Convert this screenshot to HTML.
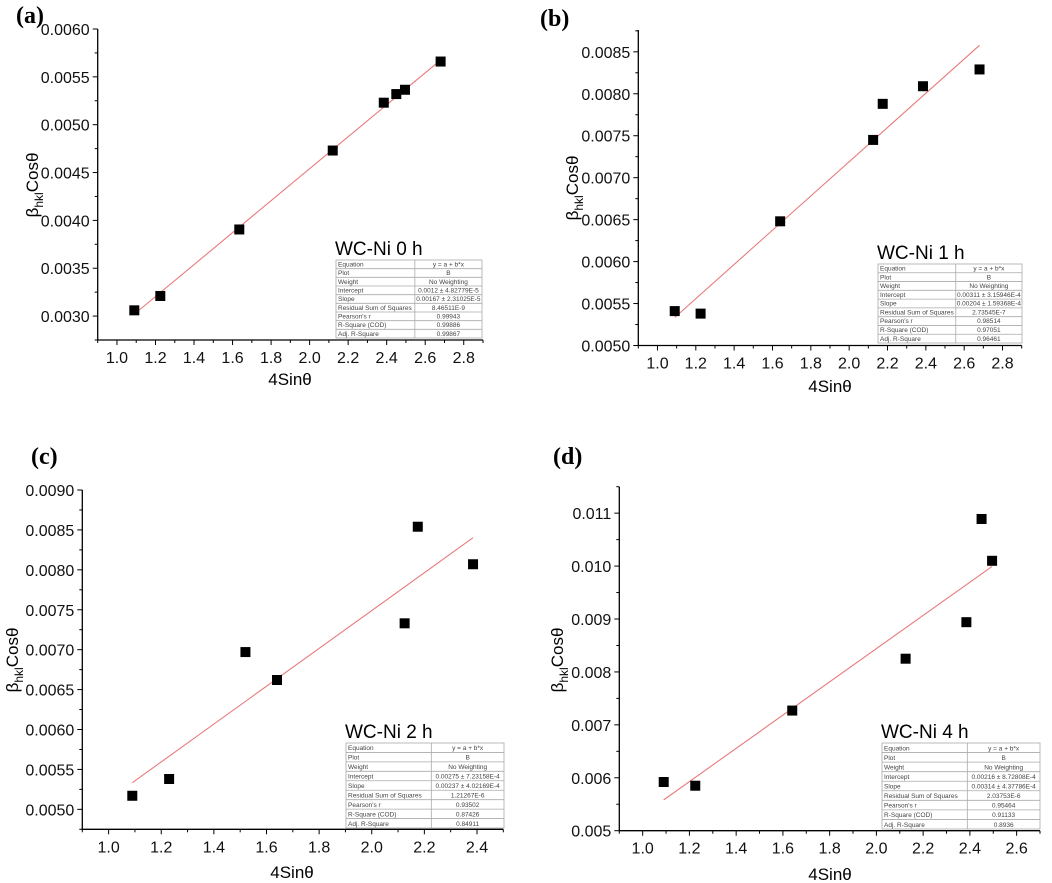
<!DOCTYPE html>
<html><head><meta charset="utf-8">
<style>
html,body{margin:0;padding:0;background:#fff;}
svg{display:block;}
text{font-family:"Liberation Sans",Arial,sans-serif;}
text.serif{font-family:"Liberation Serif","Times New Roman",serif;}
</style></head>
<body>
<svg id="fig" width="1052" height="883" viewBox="0 0 1052 883" xmlns="http://www.w3.org/2000/svg"></svg>
<script>
// ---- Data ----
const xA = [1.09, 1.225, 1.635, 2.12, 2.385, 2.45, 2.495, 2.68];
const yA = [0.00306, 0.00321, 0.003905, 0.00473, 0.00523, 0.00532, 0.005365, 0.00566];
const fitA = [0.0012, 0.00167];
const xB = [1.09, 1.225, 1.64, 2.125, 2.175, 2.385, 2.68];
const yB = [0.00541, 0.00538, 0.00648, 0.00745, 0.00788, 0.00809, 0.00829];
const fitB = [0.00311, 0.00204];
const xC = [1.09, 1.23, 1.52, 1.64, 2.125, 2.175, 2.385];
const yC = [0.00517, 0.00538, 0.00697, 0.00662, 0.00733, 0.00854, 0.00807];
const fitC = [0.00275, 0.00237];
const xD = [1.09, 1.225, 1.64, 2.125, 2.385, 2.45, 2.495];
const yD = [0.00592, 0.00585, 0.00727, 0.00825, 0.00894, 0.01089, 0.0101];
const fitD = [0.00216, 0.00314];

const xTicksA = ["1.0","1.2","1.4","1.6","1.8","2.0","2.2","2.4","2.6","2.8"];
const yTicksA = ["0.0030","0.0035","0.0040","0.0045","0.0050","0.0055","0.0060"];
const yTicksB = ["0.0050","0.0055","0.0060","0.0065","0.0070","0.0075","0.0080","0.0085"];
const xTicksC = ["1.0","1.2","1.4","1.6","1.8","2.0","2.2","2.4"];
const yTicksC = ["0.0050","0.0055","0.0060","0.0065","0.0070","0.0075","0.0080","0.0085","0.0090"];
const xTicksD = ["1.0","1.2","1.4","1.6","1.8","2.0","2.2","2.4","2.6"];
const yTicksD = ["0.005","0.006","0.007","0.008","0.009","0.010","0.011"];

const tblKeys = ["Equation","Plot","Weight","Intercept","Slope","Residual Sum of Squares","Pearson's r","R-Square (COD)","Adj. R-Square"];
const tblA = ["y = a + b*x","B","No Weighting","0.0012 ± 4.82779E-5","0.00167 ± 2.31025E-5","8.46511E-9","0.99943","0.99886","0.99867"];
const tblB = ["y = a + b*x","B","No Weighting","0.00311 ± 3.15946E-4","0.00204 ± 1.59368E-4","2.73545E-7","0.98514","0.97051","0.96461"];
const tblC = ["y = a + b*x","B","No Weighting","0.00275 ± 7.23158E-4","0.00237 ± 4.02169E-4","1.21267E-6","0.93502","0.87426","0.84911"];
const tblD = ["y = a + b*x","B","No Weighting","0.00216 ± 8.72808E-4","0.00314 ± 4.37786E-4","2.03753E-6","0.95464","0.91133","0.8936"];

const NS = "http://www.w3.org/2000/svg";
const svg = document.getElementById('fig');
function mk(tag, attrs, parent, txt){
  const e = document.createElementNS(NS, tag);
  for (const k in attrs) e.setAttribute(k, attrs[k]);
  if (txt !== undefined) e.textContent = txt;
  (parent || svg).appendChild(e);
  return e;
}

function panel(p){
  const g = mk('g', {});
  
  
  const sx = v => p.L + (v - p.xmin) / (p.xmax - p.xmin) * (p.R - p.L);
  const sy = v => p.B - (v - p.ymin) / (p.ymax - p.ymin) * (p.B - p.T);
  const lt = mk('text', {x:p.lx, y:p.ly, 'font-size':24, 'font-weight':'bold', 'class':'serif'}, g, '(' + p.id + ')');
  
  
  const ax = mk('path', {d:`M${p.L},${p.T}V${p.B}H${p.R}`, stroke:'#000', 'stroke-width':1.3, fill:'none'}, g);
  
  
  const xs = p.xTicks.map(Number);
  const xstep = xs[1] - xs[0];
  for (let v = p.xmin; v <= p.xmax + 1e-9; v += xstep/2){
    const isMaj = xs.some(t => Math.abs(t - v) < 1e-6);
    mk('line', {x1:sx(v), x2:sx(v), y1:p.B, y2:p.B + (isMaj?5:3), stroke:'#000', 'stroke-width':1}, g);
  }
  p.xTicks.forEach(t => {
    const tx = mk('text', {x:sx(Number(t)), y:p.B + 23, 'font-size':16, 'text-anchor':'middle', fill:'#111'}, g, t);
    
    
  });
  const ys = p.yTicks.map(Number);
  const ystep = ys[1] - ys[0];
  for (let i = -4; i < 40; i++){
    const v = ys[0] + i * ystep/2;
    if (v < p.ymin - 1e-12 || v > p.ymax + 1e-12) continue;
    const isMaj = i % 2 === 0 && i >= 0 && i/2 < ys.length;
    mk('line', {x1:p.L - (isMaj?5:3), x2:p.L, y1:sy(v), y2:sy(v), stroke:'#000', 'stroke-width':1}, g);
  }
  p.yTicks.forEach(t => {
    const ty = mk('text', {x:p.L - 8, y:sy(Number(t)) + 6, 'font-size':16, 'text-anchor':'end', fill:'#111'}, g, t);
    
    
  });
  const xt = mk('text', {x:p.xlx, y:p.xly, 'font-size':17, 'text-anchor':'middle'}, g, '4Sinθ');
  
  
  const yt = mk('text', {x:0, y:0, 'font-size':17, 'text-anchor':'middle', transform:`translate(${p.ylx},${p.yly}) rotate(-90)`}, g);
  
  
  mk('tspan', {}, yt, 'β');
  mk('tspan', {'font-size':12, dy:5}, yt, 'hkl');
  mk('tspan', {dy:-5}, yt, 'Cosθ');
  const x0 = p.xs[0], x1 = p.xs[p.xs.length-1];
  const fl = mk('line', {x1:sx(x0), y1:sy(p.fit[0]+p.fit[1]*x0), x2:sx(x1), y2:sy(p.fit[0]+p.fit[1]*x1), stroke:'#e87a7a', 'stroke-width':1.1}, g);
  
  
  p.xs.forEach((x, i) => {
    const r = mk('rect', {x:sx(x)-5, y:sy(p.ys[i])-5, width:10, height:10, fill:'#000'}, g);
    
    
  });
  const tt = mk('text', {x:p.tx - 1, y:p.ty - 5, 'font-size':19}, g, p.title);
  
  
  const tg = mk('g', {}, g);
  
  
  const rh = (p.tb - p.ty) / 9, cw = (p.tr - p.tx) * 0.54;
  mk('rect', {x:p.tx, y:p.ty, width:p.tr-p.tx, height:p.tb-p.ty, fill:'#fff', stroke:'#aaa', 'stroke-width':0.8}, tg);
  mk('line', {x1:p.tx+cw, x2:p.tx+cw, y1:p.ty, y2:p.tb, stroke:'#aaa', 'stroke-width':0.8}, tg);
  tblKeys.forEach((k, i) => {
    if (i > 0) mk('line', {x1:p.tx, x2:p.tr, y1:p.ty+i*rh, y2:p.ty+i*rh, stroke:'#aaa', 'stroke-width':0.8}, tg);
    mk('text', {x:p.tx+2, y:p.ty+i*rh+rh-2.2, 'font-size':6.5, fill:'#444'}, tg, k);
    mk('text', {x:p.tx+cw+(p.tr-p.tx-cw)/2, y:p.ty+i*rh+rh-2.2, 'font-size':6.5, fill:'#444', 'text-anchor':'middle'}, tg, p.tbl[i]);
  });
}

panel({id:'a', xs:xA, ys:yA, fit:fitA, xTicks:xTicksA, yTicks:yTicksA, tbl:tblA, title:'WC-Ni 0 h',
  L:97.7, R:483, T:29, B:340, xmin:0.9, xmax:2.9, ymin:0.00275, ymax:0.0060,
  lx:16, ly:23, xlx:290, xly:385, ylx:38, yly:185, tx:336, ty:260, tr:482, tb:338});
panel({id:'b', xs:xB, ys:yB, fit:fitB, xTicks:xTicksA, yTicks:yTicksB, tbl:tblB, title:'WC-Ni 1 h',
  L:638.3, R:1021.7, T:30, B:345.5, xmin:0.9, xmax:2.9, ymin:0.0050, ymax:0.00876,
  lx:540, ly:26, xlx:830, xly:392, ylx:578, yly:188, tx:878, ty:264, tr:1022, tb:343});
panel({id:'c', xs:xC, ys:yC, fit:fitC, xTicks:xTicksC, yTicks:yTicksC, tbl:tblC, title:'WC-Ni 2 h',
  L:82.3, R:503.3, T:490, B:829.3, xmin:0.9, xmax:2.5, ymin:0.00475, ymax:0.0090,
  lx:31, ly:464, xlx:292, xly:878, ylx:18, yly:660, tx:346, ty:743, tr:504, tb:828});
panel({id:'d', xs:xD, ys:yD, fit:fitD, xTicks:xTicksD, yTicks:yTicksD, tbl:tblD, title:'WC-Ni 4 h',
  L:619.3, R:1040, T:486.7, B:830.7, xmin:0.9, xmax:2.7, ymin:0.005, ymax:0.0115,
  lx:553, ly:464, xlx:830, xly:880, ylx:563, yly:660, tx:882, ty:743, tr:1040, tb:829});
</script>
</body></html>
